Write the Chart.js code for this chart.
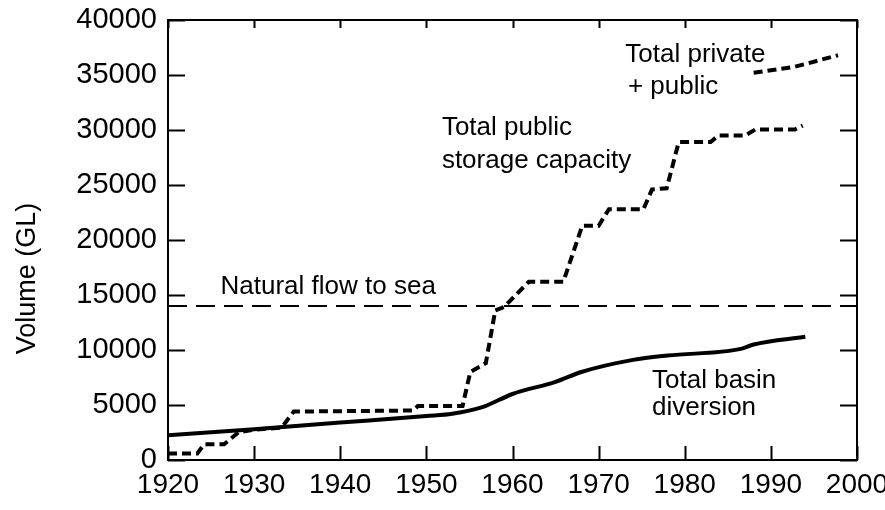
<!DOCTYPE html>
<html>
<head>
<meta charset="utf-8">
<script src="https://cdn.jsdelivr.net/npm/chart.js@4.4.1/dist/chart.umd.min.js"></script>
<style>
  html, body { margin: 0; padding: 0; background: #fff; }
  #wrap { width: 885px; height: 510px; }
</style>
</head>
<body>
<div id="wrap"><canvas id="chart"></canvas></div>
<script>
// values (GL)
const publicYears   = [1920, 1923.4, 1924.2, 1926.5, 1928.2, 1930, 1933.2, 1934.6, 1948.5, 1949, 1954.2, 1955.1, 1956.9, 1958, 1959, 1961.9, 1965.9, 1968.1, 1970, 1971.2, 1975.2, 1976.2, 1977.9, 1979.3, 1983, 1983.9, 1987, 1988.2, 1992.8, 1993.7];
const publicStorage = [600, 600, 1430, 1430, 2520, 2750, 2950, 4400, 4500, 4900, 4900, 8000, 8800, 13600, 13900, 16200, 16200, 21300, 21300, 22800, 22800, 24600, 24700, 28900, 28900, 29500, 29500, 30050, 30050, 30400];

const privateYears   = [1988, 1992.8, 1997.8];
const privateStorage = [35200, 35750, 36800];

const diversionYears  = [1920, 1930, 1940, 1950, 1953, 1956.5, 1960, 1965, 1968, 1974, 1978, 1986.5, 1988, 1994];
const diversionVolume = [2250, 2800, 3400, 4000, 4200, 4800, 6000, 7100, 8000, 9100, 9500, 10100, 10500, 11200];

const flowYears   = [1920, 2000];
const naturalFlow = [14000, 14000];

const labelText  = ['Total private', '+ public', 'Total public', 'storage capacity', 'Natural flow to sea', 'Total basin', 'diversion'];
const labelYears = [1973.1, 1973.4, 1951.8, 1951.8, 1926.1, 1976.2, 1976.2];
const labelVals  = [36800, 33900, 30200, 27200, 15700, 7200, 4700];

function pts(xs, ys) {
  return xs.map((x, i) => ({ x: x, y: ys[i] }));
}

const txtFont = "'Liberation Sans', Arial, Helvetica, sans-serif";

const framePlugin = {
  id: 'frame',
  afterDraw(chart) {
    const ctx = chart.ctx;
    const a = chart.chartArea;
    const xs = chart.scales.x, ys = chart.scales.y;
    ctx.save();
    ctx.strokeStyle = '#000';
    ctx.lineWidth = 2;
    ctx.strokeRect(a.left, a.top, a.right - a.left, a.bottom - a.top);
    ctx.beginPath();
    xs.ticks.forEach(t => {
      const px = Math.round(xs.getPixelForValue(t.value)) + 0.5;
      ctx.moveTo(px, a.bottom); ctx.lineTo(px, a.bottom - 14);
      ctx.moveTo(px, a.top); ctx.lineTo(px, a.top + 8);
    });
    ys.ticks.forEach(t => {
      const py = Math.round(ys.getPixelForValue(t.value)) + 0.5;
      ctx.moveTo(a.left, py); ctx.lineTo(a.left + 17, py);
      ctx.moveTo(a.right, py); ctx.lineTo(a.right - 17, py);
    });
    ctx.stroke();

    ctx.fillStyle = '#000';
    ctx.font = '26px ' + txtFont;
    ctx.textAlign = 'left';
    ctx.textBaseline = 'middle';
    labelText.forEach((s, i) => {
      ctx.fillText(s, xs.getPixelForValue(labelYears[i]), ys.getPixelForValue(labelVals[i]));
    });

    // y axis title
    ctx.font = '27px ' + txtFont;
    ctx.textAlign = 'center';
    ctx.translate(28, ys.getPixelForValue(16500));
    ctx.rotate(-Math.PI / 2);
    ctx.fillText('Volume (GL)', 0, 0);
    ctx.restore();
  }
};

new Chart(document.getElementById('chart'), {
  type: 'line',
  data: {
    datasets: [
      {
        label: 'Natural flow to sea',
        data: pts(flowYears, naturalFlow),
        borderColor: '#000',
        borderWidth: 2,
        borderDash: [19, 9],
        pointRadius: 0
      },
      {
        label: 'Total public storage capacity',
        data: pts(publicYears, publicStorage),
        borderColor: '#000',
        borderWidth: 4,
        borderDash: [9, 5],
        pointRadius: 0
      },
      {
        label: 'Total private + public',
        data: pts(privateYears, privateStorage),
        borderColor: '#000',
        borderWidth: 4,
        borderDash: [9, 5],
        pointRadius: 0
      },
      {
        label: 'Total basin diversion',
        data: pts(diversionYears, diversionVolume),
        borderColor: '#000',
        borderWidth: 4,
        pointRadius: 0,
        cubicInterpolationMode: 'monotone'
      }
    ]
  },
  options: {
    responsive: true,
    maintainAspectRatio: false,
    animation: false,
    layout: { padding: { left: 48, right: 28, top: 20, bottom: 0 } },
    plugins: {
      legend: { display: false },
      tooltip: { enabled: false }
    },
    scales: {
      x: {
        type: 'linear',
        min: 1920,
        max: 2000,
        grid: { display: false, drawTicks: false },
        border: { display: false },
        ticks: {
          stepSize: 10,
          padding: 8,
          color: '#000',
          font: { family: txtFont, size: 28 },
          callback: v => String(v)
        },
        afterFit: s => { s.height = 50; s.paddingLeft = 0; s.paddingRight = 0; }
      },
      y: {
        min: 0,
        max: 40000,
        grid: { display: false, drawTicks: false },
        border: { display: false },
        ticks: {
          stepSize: 5000,
          padding: 11,
          color: '#000',
          font: { family: txtFont, size: 29 },
          callback: v => String(v)
        },
        afterFit: s => { s.width = 120; s.paddingTop = 0; s.paddingBottom = 0; }
      }
    }
  },
  plugins: [framePlugin]
});
</script>
</body>
</html>
